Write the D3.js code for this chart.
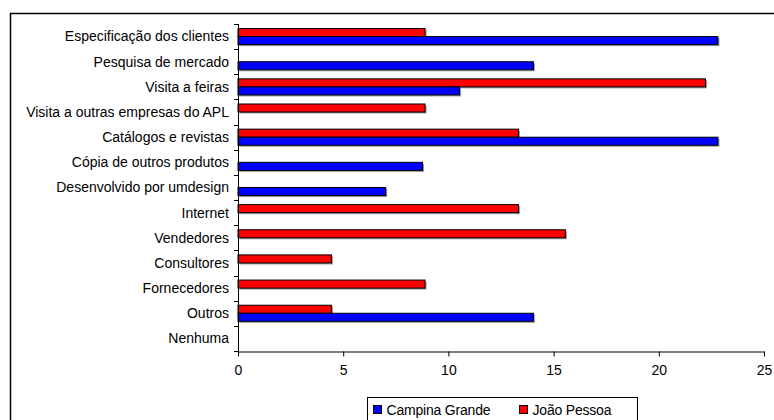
<!DOCTYPE html>
<html>
<head>
<meta charset="utf-8">
<script src="https://cdn.jsdelivr.net/npm/d3@7"></script>
<style>
  html, body { margin: 0; padding: 0; background: #fff; }
  svg { display: block; font-family: "Liberation Sans", Arial, sans-serif; }
</style>
</head>
<body>
<svg id="chart" width="774" height="420"></svg>
<script>
// Fontes de ideias para novos produtos (% das respostas)
const categories = [
  "Especificação dos clientes",
  "Pesquisa de mercado",
  "Visita a feiras",
  "Visita a outras empresas do APL",
  "Catálogos e revistas",
  "Cópia de outros produtos",
  "Desenvolvido por umdesign",
  "Internet",
  "Vendedores",
  "Consultores",
  "Fornecedores",
  "Outros",
  "Nenhuma"
];
const seriesNames = ["João Pessoa", "Campina Grande"];
const joaoPessoa    = [8.89, 0, 22.22, 8.89, 13.33, 0, 0, 13.33, 15.56, 4.44, 8.89, 4.44, 0];
const campinaGrande = [22.81, 14.04, 10.53, 0, 22.81, 8.77, 7.02, 0, 0, 0, 0, 14.04, 0];
const xTicks = [0, 5, 10, 15, 20, 25];
const colors = { "João Pessoa": "#ff0000", "Campina Grande": "#0000ff" };

const svg = d3.select("#chart");

// outer frame
svg.append("rect")
  .attr("x", 10.5).attr("y", 13.5)
  .attr("width", 780).attr("height", 420)
  .attr("fill", "none").attr("stroke", "#000").attr("stroke-width", 1.5);

const plotLeft = 238, plotRight = 764, plotTop = 24, plotBottom = 351;

const x = d3.scaleLinear().domain([0, 25]).range([plotLeft, plotRight]);
const y = d3.scaleBand().domain(categories).range([plotTop, plotBottom]).paddingInner(0.36).paddingOuter(0.18);
const ySub = d3.scaleBand().domain(seriesNames).range([0, y.bandwidth()]);

const rows = categories.map((c, i) => ({
  cat: c,
  values: [
    { s: "João Pessoa", v: joaoPessoa[i] },
    { s: "Campina Grande", v: campinaGrande[i] }
  ]
}));

const g = svg.append("g");
const groups = g.selectAll("g.row").data(rows).join("g")
  .attr("class", "row")
  .attr("transform", d => `translate(0,${y(d.cat)})`);

const bars = groups.selectAll("g.bar")
  .data(d => d.values.filter(e => e.v > 0))
  .join("g").attr("class", "bar");

// drop shadow
bars.append("rect")
  .attr("x", x(0) + 1.5)
  .attr("y", d => ySub(d.s) + 1.5)
  .attr("width", d => x(d.v) - x(0))
  .attr("height", ySub.bandwidth())
  .attr("fill", "#9a9a9a");

bars.append("rect")
  .attr("x", x(0))
  .attr("y", d => ySub(d.s))
  .attr("width", d => x(d.v) - x(0))
  .attr("height", ySub.bandwidth())
  .attr("fill", d => colors[d.s])
  .attr("stroke", "#000").attr("stroke-width", 1);

// category axis: ticks between bands
const bandH = (plotBottom - plotTop) / categories.length;
const yAxis = svg.append("g");
yAxis.append("line")
  .attr("x1", plotLeft + 0.5).attr("x2", plotLeft + 0.5)
  .attr("y1", plotTop).attr("y2", plotBottom)
  .attr("stroke", "#000");
d3.range(categories.length + 1).forEach(i => {
  const yy = Math.round(plotTop + i * bandH) + 0.5;
  yAxis.append("line")
    .attr("x1", plotLeft - 4).attr("x2", plotLeft + 0.5)
    .attr("y1", yy).attr("y2", yy)
    .attr("stroke", "#000");
});
yAxis.selectAll("text").data(categories).join("text")
  .attr("x", plotLeft - 9)
  .attr("y", (d, i) => plotTop + (i + 0.5) * bandH)
  .attr("dy", "0.35em")
  .attr("text-anchor", "end")
  .attr("font-size", 14)
  .attr("letter-spacing", 0)
  .attr("fill", "#000")
  .text(d => d);

// value axis
const xAxis = svg.append("g")
  .attr("transform", `translate(0,${plotBottom + 0.5})`)
  .call(d3.axisBottom(x).tickValues(xTicks).tickSize(5).tickPadding(9).tickSizeOuter(0));
xAxis.select(".domain").attr("stroke", "#000");
xAxis.selectAll(".tick line").attr("stroke", "#000");
xAxis.selectAll(".tick text")
  .attr("font-size", 14).attr("font-family", "Liberation Sans, Arial, sans-serif").attr("fill", "#000");

// legend
const legend = svg.append("g").attr("transform", "translate(367.5,397.5)");
legend.append("rect")
  .attr("width", 270).attr("height", 40)
  .attr("fill", "#fff").attr("stroke", "#000");
const legendItems = [
  { s: "Campina Grande", x: 6 },
  { s: "João Pessoa", x: 152 }
];
legendItems.forEach(it => {
  legend.append("rect")
    .attr("x", it.x).attr("y", 8)
    .attr("width", 8).attr("height", 8)
    .attr("fill", colors[it.s]).attr("stroke", "#000");
  legend.append("text")
    .attr("x", it.x + 13).attr("y", 17)
    .attr("font-size", 14).attr("letter-spacing", -0.2).attr("fill", "#000")
    .text(it.s);
});
</script>
</body>
</html>
